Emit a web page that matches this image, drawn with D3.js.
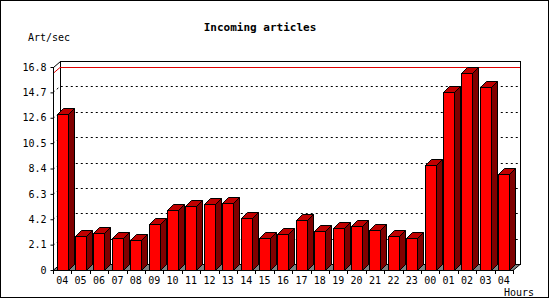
<!DOCTYPE html>
<html>
<head>
<meta charset="utf-8">
<script src="https://cdn.jsdelivr.net/npm/d3@7"></script>
<style>
  body { margin: 0; background: #fff; }
  text { font-family: "DejaVu Sans Mono", monospace; }
</style>
</head>
<body>
<div id="chart"></div>
<script>
// data
const hours = ["04","05","06","07","08","09","10","11","12","13","14","15","16",
               "17","18","19","20","21","22","23","00","01","02","03","04b"];
const hourLabels = hours.map(h => h.slice(0, 2));
const rates = [12.95, 2.83, 3.08, 2.67, 2.48, 3.78, 4.93, 5.26, 5.43, 5.51, 4.27, 2.62, 2.95,
               4.11, 3.2, 3.44, 3.61, 3.28, 2.78, 2.62, 8.65, 14.77, 16.34, 15.18, 7.91];
const yTicks = [0, 2.1, 4.2, 6.3, 8.4, 10.5, 12.6, 14.7, 16.8];

const width = 550, height = 300;
const dx = 7, dy = 6;      // depth of the back wall
const bdx = 6, bdy = 6;    // depth of each bar
const pLeft = 53, pRight = 513, pBottom = 270, pTop = 67;

const svg = d3.select("#chart").append("svg")
  .attr("width", width)
  .attr("height", height);

const x = d3.scaleBand()
  .domain(hours)
  .range([pLeft, pRight])
  .paddingInner(0);

const y = d3.scaleLinear()
  .domain([0, 16.8])
  .range([pBottom, pTop]);

// outer frame
svg.append("rect")
  .attr("x", 0.5).attr("y", 0.5)
  .attr("width", 548).attr("height", 297)
  .attr("fill", "#fff")
  .attr("stroke", "#000");

// back wall
svg.append("rect")
  .attr("x", pLeft + dx + 0.5).attr("y", pTop - dy + 0.5)
  .attr("width", pRight - pLeft).attr("height", pBottom - pTop)
  .attr("fill", "#fff")
  .attr("stroke", "#000");

// dotted grid on left wall + back wall
svg.append("g").selectAll("path")
  .data(yTicks.slice(1, -1))
  .enter()
  .append("path")
  .attr("fill", "none")
  .attr("stroke", "#000")
  .attr("stroke-dasharray", "2,3")
  .attr("d", d => {
    const yy = Math.round(y(d)) + 0.5;
    return `M${pLeft},${yy}L${pLeft + dx},${yy - dy}L${pRight + dx},${yy - dy}`;
  });

// red line at the maximum
const maxV = d3.max(rates);
const ym = Math.round(y(maxV)) + 0.5;
svg.append("path")
  .attr("fill", "none")
  .attr("stroke", "#e00000")
  .attr("d", `M${pLeft},${ym}L${pLeft + dx},${ym - dy}L${pRight + dx},${ym - dy}`);

// floor
svg.append("path")
  .attr("fill", "#808080")
  .attr("stroke", "#000")
  .attr("d", `M${pLeft},${pBottom + 0.5}L${pLeft + dx},${pBottom - dy + 0.5}L${pRight + dx},${pBottom - dy + 0.5}L${pRight},${pBottom + 0.5}Z`);

// left wall top edge
svg.append("path")
  .attr("fill", "none")
  .attr("stroke", "#000")
  .attr("d", `M${pLeft + 0.5},${pTop + 0.5}L${pLeft + dx + 0.5},${pTop - dy + 0.5}`);

// bars
const bars = svg.append("g").selectAll("g")
  .data(rates)
  .enter()
  .append("g")
  .attr("stroke", "#000")
  .attr("stroke-linejoin", "miter");

const bx = (d, i) => Math.round(x(hours[i]) + 3.5) + 0.5;
const bw = 11;

bars.append("path")
  .attr("fill", "#800000")
  .attr("d", (d, i) => {
    const x0 = bx(d, i) + bw, y0 = Math.round(y(d)) + 0.5;
    return `M${x0},${pBottom + 0.5}L${x0 + bdx},${pBottom + 0.5 - bdy}L${x0 + bdx},${y0 - bdy}L${x0},${y0}Z`;
  });

bars.append("path")
  .attr("fill", "#c00000")
  .attr("d", (d, i) => {
    const x0 = bx(d, i), y0 = Math.round(y(d)) + 0.5;
    return `M${x0},${y0}L${x0 + bdx},${y0 - bdy}L${x0 + bw + bdx},${y0 - bdy}L${x0 + bw},${y0}Z`;
  });

bars.append("rect")
  .attr("fill", "#ff0000")
  .attr("x", (d, i) => bx(d, i))
  .attr("y", d => Math.round(y(d)) + 0.5)
  .attr("width", bw)
  .attr("height", d => pBottom - Math.round(y(d)));

// y axis
const yAxis = svg.append("g")
  .attr("transform", `translate(${pLeft + 0.5},0)`)
  .call(d3.axisLeft(y).tickValues(yTicks).tickSize(3).tickPadding(4)
    .tickFormat(d => d === 0 ? "0" : d3.format(".1f")(d)));
yAxis.select(".domain").attr("d", `M0,${pTop}V${pBottom}`);
yAxis.selectAll("text").attr("font-size", 10).attr("font-family", "DejaVu Sans Mono").attr("fill", "#000");

// x axis
const xAxis = svg.append("g")
  .attr("transform", `translate(0,${pBottom + 0.5})`)
  .call(d3.axisBottom(x).tickSize(0).tickPadding(6).tickFormat((d, i) => hourLabels[i]));
xAxis.select(".domain").remove();
xAxis.selectAll("text").attr("font-size", 10).attr("font-family", "DejaVu Sans Mono").attr("fill", "#000");

// tick marks on band edges
svg.append("g").selectAll("line")
  .data(hours.concat(["end"]))
  .enter()
  .append("line")
  .attr("stroke", "#000")
  .attr("x1", (d, i) => Math.round(pLeft + i * x.bandwidth()) + 0.5)
  .attr("x2", (d, i) => Math.round(pLeft + i * x.bandwidth()) + 0.5)
  .attr("y1", pBottom)
  .attr("y2", pBottom + 4);

// texts
svg.append("text")
  .attr("x", 260).attr("y", 31)
  .attr("text-anchor", "middle")
  .attr("font-size", 11).attr("font-weight", "bold")
  .text("Incoming articles");

svg.append("text")
  .attr("x", 28).attr("y", 41)
  .attr("font-size", 10)
  .text("Art/sec");

svg.append("text")
  .attr("x", 534).attr("y", 296)
  .attr("text-anchor", "end")
  .attr("font-size", 10)
  .text("Hours");
</script>
</body>
</html>
